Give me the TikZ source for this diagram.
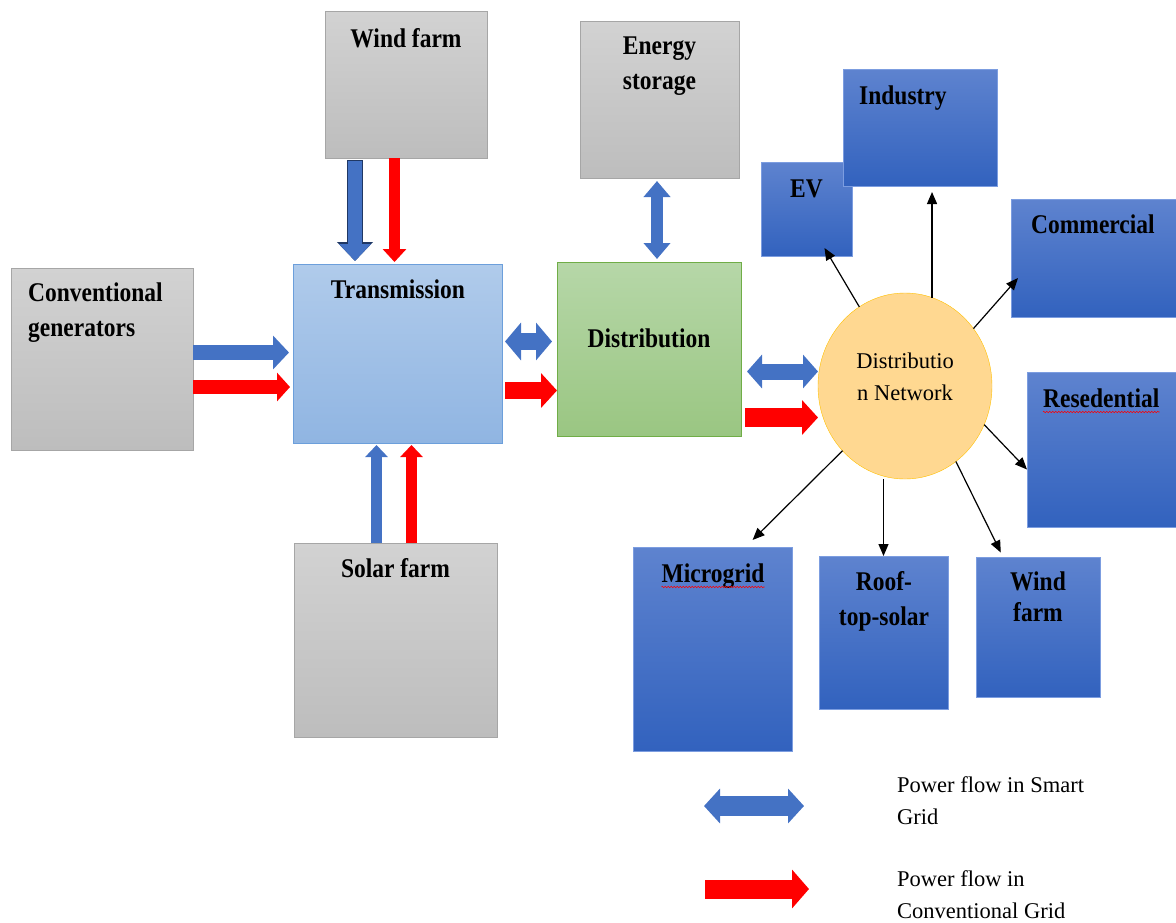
\documentclass[tikz,border=0pt]{standalone}
\usepackage{fontspec}
\setmainfont{Liberation Serif}
\newfontfamily\boxfont{Liberation Serif}[FakeStretch=0.87]
\usetikzlibrary{shapes.geometric, arrows.meta, decorations.pathmorphing}

\definecolor{smartblue}{HTML}{4472C4}
\definecolor{convred}{HTML}{FF0000}
\definecolor{windnavy}{HTML}{203864}
\definecolor{graytop}{HTML}{D2D2D2}
\definecolor{graybot}{HTML}{BDBDBD}
\definecolor{grayline}{HTML}{A6A6A6}
\definecolor{transtop}{HTML}{B0CBEB}
\definecolor{transbot}{HTML}{90B5E2}
\definecolor{transline}{HTML}{6C9FDB}
\definecolor{disttop}{HTML}{B6D7A8}
\definecolor{distbot}{HTML}{9AC682}
\definecolor{distline}{HTML}{70AD47}
\definecolor{loadtop}{HTML}{5E83CF}
\definecolor{loadbot}{HTML}{3262BE}
\definecolor{loadline}{HTML}{7C9DE0}
\definecolor{netfill}{HTML}{FFD891}
\definecolor{netline}{HTML}{FFC000}

\tikzstyle{graybox} = [rectangle, draw=grayline, top color=graytop, bottom color=graybot, inner sep=0pt, outer sep=0pt]
\tikzstyle{transbox} = [rectangle, draw=transline, top color=transtop, bottom color=transbot, inner sep=0pt, outer sep=0pt]
\tikzstyle{distbox} = [rectangle, draw=distline, top color=disttop, bottom color=distbot, inner sep=0pt, outer sep=0pt]
\tikzstyle{loadbox} = [rectangle, draw=loadline, top color=loadtop, bottom color=loadbot, inner sep=0pt, outer sep=0pt]
\tikzstyle{netnode} = [ellipse, draw=netline, fill=netfill, inner sep=0pt, outer sep=0pt]
\tikzstyle{lbl} = [font=\boxfont\bfseries\fontsize{27}{35}\selectfont, align=center, anchor=base, inner sep=0pt]
\tikzstyle{lblleft} = [lbl, align=left, anchor=base west]
\tikzstyle{note} = [font=\fontsize{22.5}{32}\selectfont, align=left, anchor=base west, inner sep=0pt]
\tikzstyle{feed} = [draw=black, line width=1.2pt, -{Triangle[length=12pt,width=10pt]}]
\tikzstyle{squiggle} = [draw=red, line width=0.6pt, decorate, decoration={zigzag, segment length=3pt, amplitude=0.8pt}]
\tikzset{
  smart/.style n args={3}{draw=smartblue, line width=#1,
    {Triangle[length=#2,width=#3]}-{Triangle[length=#2,width=#3]}},
  smartin/.style n args={3}{draw=smartblue, line width=#1, -{Triangle[length=#2,width=#3]}},
  conv/.style n args={3}{draw=convred, line width=#1, -{Triangle[length=#2,width=#3]}}
}

\begin{document}
\begin{tikzpicture}[x=1pt, y=-1pt]
\useasboundingbox (0,0) rectangle (1176,922);
\clip (0,0) rectangle (1176,922);

% supply side
\node (wind) [graybox, minimum width=162pt, minimum height=147pt] at (406,84.5) {};
\node (windtxt) [lbl] at (406,47) {Wind farm};
\node (store) [graybox, minimum width=159pt, minimum height=157pt] at (659.5,99.5) {};
\node (storetxt) [lbl] at (659.5,89) {Energy\\storage};
\node (conv) [graybox, minimum width=182pt, minimum height=182pt] at (102,359) {};
\node (convtxt) [lblleft] at (28,336) {Conventional\\generators};
\node (trans) [transbox, minimum width=209pt, minimum height=179pt] at (397.5,353.5) {};
\node (transtxt) [lbl] at (398,298) {Transmission};
\node (dist) [distbox, minimum width=184pt, minimum height=174pt] at (649,349) {};
\node (disttxt) [lbl] at (649,347) {Distribution};
\node (solar) [graybox, minimum width=203pt, minimum height=194pt] at (395.5,640) {};
\node (solartxt) [lbl] at (395.5,577) {Solar farm};

% distribution network and loads
\node (net) [netnode, minimum width=174pt, minimum height=186pt] at (905,386) {};
\node (nettxt) [note, align=center, anchor=base] at (905,400) {Distributio\\n Network};
\node (ev) [loadbox, minimum width=91pt, minimum height=94pt] at (806.5,209) {};
\node (evtxt) [lbl] at (806.5,197) {EV};
\node (ind) [loadbox, minimum width=154pt, minimum height=117pt] at (920,127.5) {};
\node (indtxt) [lblleft] at (859,104) {Industry};
\node (com) [loadbox, minimum width=169pt, minimum height=118pt] at (1095.5,258) {};
\node (comtxt) [lblleft] at (1031,233) {Commercial};
\node (res) [loadbox, minimum width=153pt, minimum height=155pt] at (1103.5,449.5) {};
\node (restxt) [lblleft] at (1043,407) {Resedential};
\node (micro) [loadbox, minimum width=159pt, minimum height=204pt] at (712.5,649) {};
\node (microtxt) [lbl] at (713,582) {Microgrid};
\node (roof) [loadbox, minimum width=129pt, minimum height=153pt] at (883.5,632.5) {};
\node (rooftxt) [lbl] at (884,625) {Roof-\\top-solar};
\node (windb) [loadbox, minimum width=124pt, minimum height=140pt] at (1038,627) {};
\node (windbtxt) [lbl, font=\boxfont\bfseries\fontsize{27}{31}\selectfont] at (1038,621) {Wind\\farm};

\draw [squiggle] ([yshift=-5pt]microtxt.base west) -- ([yshift=-5pt]microtxt.base east);
\draw [squiggle] ([yshift=-5pt]restxt.base west) -- ([yshift=-5pt]restxt.base east);

% power flows
\draw [smartin={14pt}{17pt}{31pt}, shorten <=3pt, shorten >=3pt,
  preaction={draw=windnavy, line width=16.5pt, shorten <=2pt, shorten >=3pt, -{Triangle[length=19pt,width=35pt]}}]
  ([xshift=-51pt]wind.south) -- ([xshift=-51pt]wind.south |- trans.north);
\draw [conv={11pt}{13pt}{23pt}, shorten >=2pt] ([xshift=-11.5pt]wind.south) -- ([xshift=-11.5pt]wind.south |- trans.north);
\draw [smartin={15pt}{16pt}{33pt}, shorten >=4pt] ([yshift=6.5pt]conv.east) -- ([yshift=6.5pt]conv.east -| trans.west);
\draw [conv={14pt}{13pt}{28pt}, shorten >=3pt] ([yshift=-28pt]conv.east) -- ([yshift=-28pt]conv.east -| trans.west);
\draw [smart={17pt}{16pt}{37pt}, shorten <=3pt, shorten >=5pt] ([yshift=12pt]trans.east) -- ([yshift=12pt]trans.east -| dist.west);
\draw [conv={17pt}{16pt}{34pt}, shorten <=3pt] ([yshift=-37pt]trans.east) -- ([yshift=-37pt]trans.east -| dist.west);
\draw [smart={12pt}{16pt}{26pt}, shorten <=3pt, shorten >=3pt] ([xshift=-2.5pt]store.south) -- ([xshift=-2.5pt]store.south |- dist.north);
\draw [smart={16pt}{15pt}{33pt}, shorten <=6pt] ([yshift=-22.5pt]dist.east) -- ([yshift=-22.5pt]dist.east -| net.west);
\draw [conv={19pt}{16pt}{34pt}, shorten <=4pt] ([yshift=-68.5pt]dist.east) -- ([yshift=-68.5pt]dist.east -| net.west);
\draw [smartin={11pt}{12pt}{22pt}, shorten >=2pt] ([xshift=-19pt]solar.north) -- ([xshift=-19pt]solar.north |- trans.south);
\draw [conv={11pt}{12pt}{22pt}, shorten >=2pt] ([xshift=16pt]solar.north) -- ([xshift=16pt]solar.north |- trans.south);

% network to loads
\draw [feed] (net.120) -- ([xshift=18pt,yshift=8pt]ev.south);
\draw [feed, shorten >=6pt] (net.73) -- (net.73 |- ind.south);
\draw [feed] (net.40) -- ([xshift=7pt,yshift=-20pt]com.west);
\draw [feed] (net.-26) -- ([yshift=-20pt]res.west);
\draw [feed, shorten >=10pt] (net.-134) -- ([xshift=33pt]micro.north);
\draw [feed] (net.south -| roof.north) -- (roof.north);
\draw [feed, shorten >=5pt] (net.-56) -- ([xshift=-35pt]windb.north);

% legend
\coordinate (smartL) at (704,806);
\coordinate (smartR) at (804,806);
\coordinate (convL) at (705,889);
\coordinate (convR) at (809,889);
\draw [smart={20pt}{16pt}{34pt}] (smartL) -- (smartR);
\draw [conv={19pt}{17pt}{38pt}] (convL) -- (convR);
\node (smarttxt) [note] at (897,824) {Power flow in Smart\\Grid};
\node (convtxt2) [note] at (897,918) {Power flow in\\Conventional Grid};

\end{tikzpicture}
\end{document}
